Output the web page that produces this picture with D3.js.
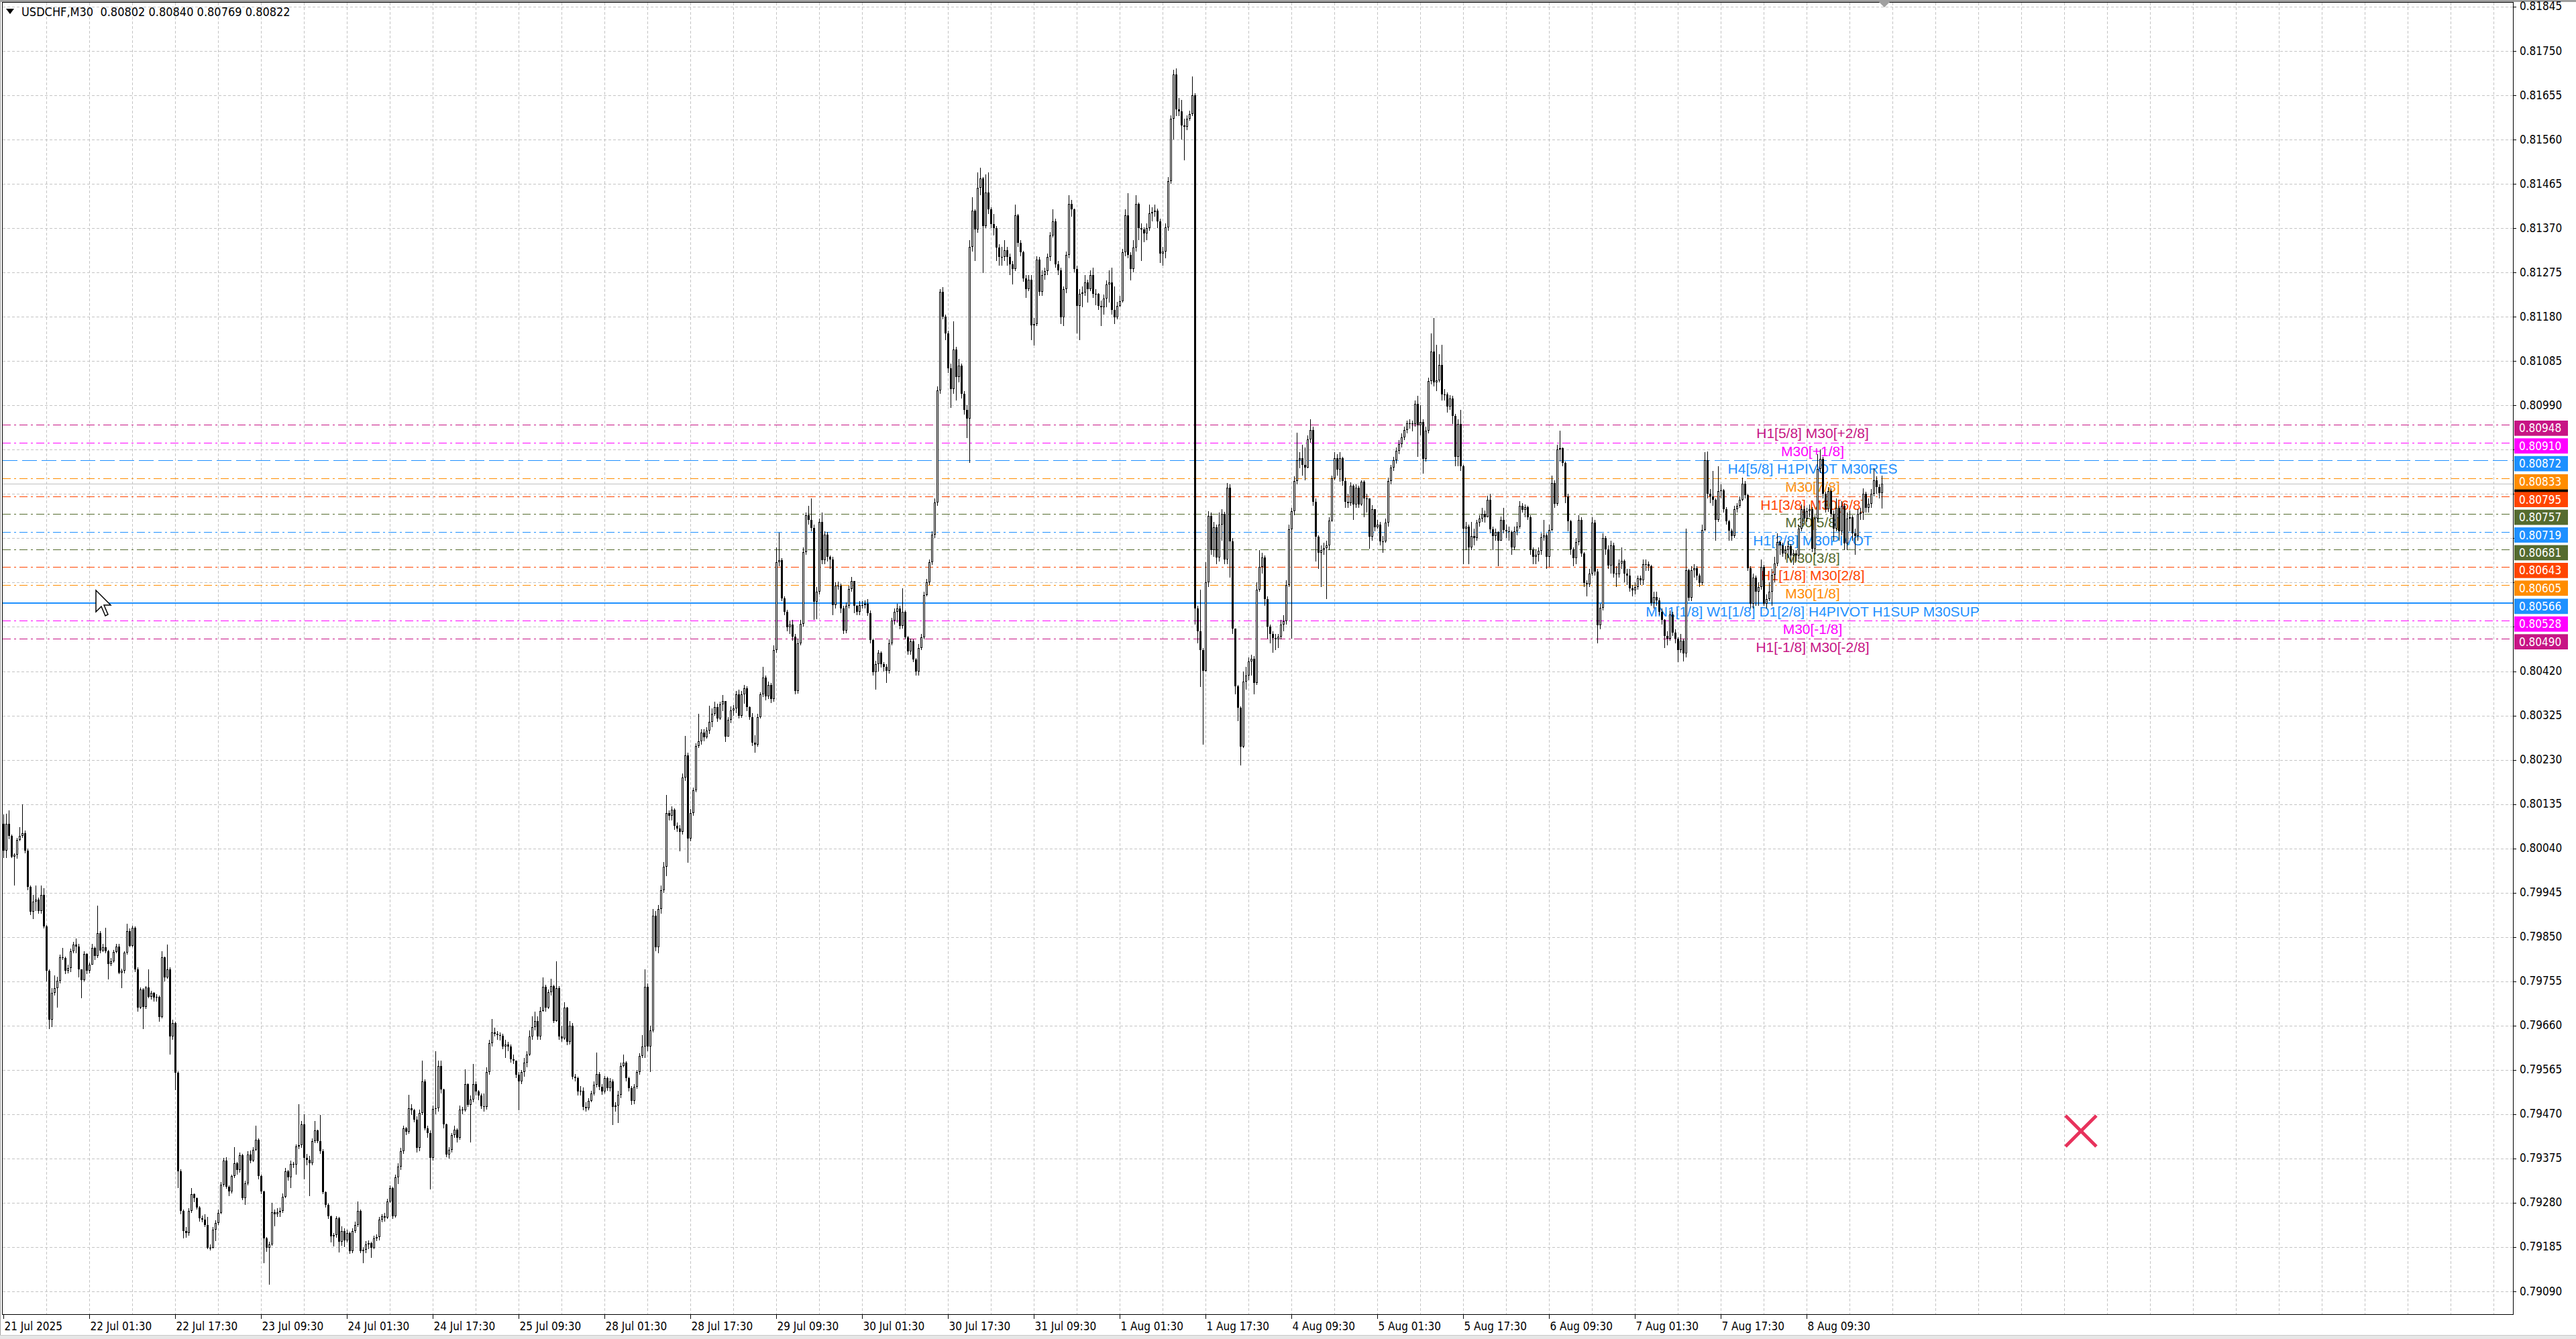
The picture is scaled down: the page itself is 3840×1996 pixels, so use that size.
<!DOCTYPE html>
<html><head><meta charset="utf-8">
<script src="https://cdn.jsdelivr.net/npm/d3@7"></script>
<style>html,body{margin:0;padding:0;background:#fff;overflow:hidden}</style>
</head><body><svg id="c" width="3840" height="1996" xmlns="http://www.w3.org/2000/svg"></svg>
<script>
// ---------------- DATA ----------------
const SYMBOL = "USDCHF,M30";
const BASE = 0.79;          // bar values below are in points (0.00001) above BASE
const firstOpen = 1092;
const closes = [
1035,1093,1067,1022,1026,1058,1067,1073,1035,958,
904,926,930,906,940,872,777,673,730,740,
756,806,805,777,783,820,834,830,781,757,
813,777,791,827,809,858,821,828,820,792,
798,818,830,774,777,816,863,831,870,781,
698,738,700,741,722,730,720,722,678,806,
763,781,637,666,559,347,262,220,215,262,
298,290,270,247,244,233,183,183,222,237,
258,319,371,315,305,337,365,350,382,290,
322,383,371,394,415,337,304,204,183,191,
260,255,260,262,293,348,334,363,362,401,
403,448,376,372,365,412,435,412,390,303,
276,251,208,211,247,197,220,200,215,176,
219,233,262,176,179,190,194,184,204,206,
244,251,248,283,312,251,334,358,391,440,
433,483,479,458,398,473,541,440,430,376,
482,483,573,523,448,383,394,425,437,420,
480,478,534,490,501,535,518,510,487,485,
560,622,646,643,640,638,615,620,615,588,
585,554,540,560,581,598,636,657,670,637,
691,743,698,732,745,670,740,636,633,698,
625,660,551,547,519,520,485,483,499,515,
533,556,529,519,547,526,540,485,488,512,
574,581,547,526,499,529,560,595,615,743,
615,650,896,828,910,951,1000,1116,1110,1123,
1089,1082,1075,1192,1240,1061,1116,1164,1260,1270,
1288,1278,1292,1311,1329,1343,1319,1349,1356,1280,
1315,1336,1340,1370,1325,1370,1384,1343,1322,1267,
1262,1322,1370,1407,1366,1390,1360,1466,1654,1658,
1576,1548,1514,1520,1494,1377,1480,1521,1676,1754,
1744,1727,1569,1590,1740,1658,1713,1665,1660,1562,
1603,1603,1555,1507,1560,1596,1613,1560,1548,1562,
1562,1565,1545,1487,1418,1435,1459,1435,1430,1421,
1480,1528,1548,1555,1517,1548,1493,1462,1484,1445,
1420,1470,1493,1583,1610,1654,1713,1782,2022,2234,
2181,2145,2070,2025,2110,2051,2075,2015,1980,1961,
2330,2407,2367,2457,2477,2375,2447,2410,2379,2370,
2328,2308,2308,2323,2308,2293,2283,2397,2338,2318,
2263,2239,2259,2162,2165,2303,2234,2270,2278,2308,
2355,2385,2293,2280,2179,2239,2313,2422,2410,2283,
2204,2229,2232,2254,2239,2270,2229,2229,2204,2200,
2219,2249,2253,2194,2179,2204,2214,2318,2397,2313,
2283,2328,2422,2370,2367,2358,2370,2402,2405,2408,
2385,2316,2320,2372,2471,2605,2699,2625,2620,2590,
2588,2605,2615,2655,1555,1506,1466,1421,1610,1753,
1679,1729,1664,1734,1758,1659,1813,1699,1511,1387,
1342,1258,1397,1411,1441,1446,1395,1595,1644,1664,
1575,1515,1500,1491,1488,1494,1520,1527,1605,1724,
1763,1828,1872,1877,1862,1857,1917,1937,1783,1709,
1674,1680,1684,1690,1743,1833,1877,1852,1877,1828,
1783,1780,1818,1778,1813,1778,1827,1791,1791,1709,
1768,1729,1734,1699,1699,1738,1828,1857,1872,1892,
1907,1922,1937,1951,1952,1950,1993,1947,1955,1875,
1936,2042,2106,2040,2044,2077,2013,2013,1987,2005,
1968,1880,1950,1859,1726,1730,1686,1710,1705,1739,
1747,1758,1750,1787,1724,1710,1718,1700,1745,1723,
1720,1718,1686,1720,1730,1774,1766,1772,1750,1681,
1665,1670,1678,1707,1712,1665,1723,1824,1779,1896,
1899,1867,1795,1742,1681,1662,1697,1745,1673,1609,
1606,1630,1739,1633,1518,1556,1705,1681,1646,1690,
1630,1628,1651,1656,1630,1625,1598,1593,1600,1619,
1615,1649,1650,1645,1566,1579,1572,1548,1530,1495,
1490,1542,1503,1490,1465,1486,1458,1636,1577,1636,
1641,1625,1609,1723,1872,1800,1795,1787,1745,1806,
1808,1768,1742,1721,1710,1768,1774,1787,1822,1798,
1641,1564,1620,1590,1600,1643,1565,1575,1590,1626,
1651,1697,1690,1673,1680,1688,1668,1672,1668,1726,
1768,1747,1763,1768,1683,1747,1854,1875,1800,1768,
1806,1758,1725,1770,1720,1775,1694,1747,1750,1715,
1710,1758,1760,1800,1770,1779,1800,1830,1815,1802,
1822];
const highs = [
1113,1114,1122,1070,1030,1062,1085,1135,1078,1040,
960,940,960,935,960,955,875,780,740,768,
765,812,827,808,790,825,840,846,835,765,
820,815,795,835,830,917,862,835,870,822,
805,822,835,835,782,820,878,868,874,872,
785,742,740,745,780,735,732,728,725,820,
808,834,785,672,668,562,352,265,228,268,
312,300,292,272,252,255,250,190,228,242,
265,325,376,378,318,340,399,368,388,385,
328,390,392,400,446,418,340,306,206,196,
280,265,268,270,300,355,350,370,368,405,
492,455,470,385,380,418,455,436,469,395,
305,278,253,215,251,250,230,225,222,218,
225,240,283,265,185,198,200,196,210,212,
250,256,258,288,318,315,340,365,398,445,
442,512,492,482,465,480,585,545,445,435,
488,605,585,585,525,450,400,430,445,440,
488,485,566,536,510,578,540,522,515,515,
570,630,674,655,648,645,642,630,625,620,
598,580,560,565,590,605,650,680,690,680,
700,763,748,738,760,748,798,745,660,710,
700,670,665,556,550,530,528,495,505,520,
540,602,560,535,552,550,548,545,495,520,
580,598,584,550,530,535,565,600,640,780,
750,660,910,905,918,960,1010,1155,1122,1130,
1126,1095,1090,1200,1281,1245,1125,1170,1265,1329,
1295,1295,1300,1346,1340,1355,1350,1355,1369,1300,
1322,1345,1348,1378,1380,1378,1390,1388,1345,1330,
1282,1328,1375,1429,1410,1398,1395,1475,1685,1717,
1662,1580,1552,1528,1530,1500,1490,1530,1685,1760,
1775,1791,1735,1600,1748,1760,1720,1718,1668,1665,
1610,1612,1608,1560,1568,1603,1622,1600,1562,1570,
1570,1572,1575,1550,1490,1442,1465,1462,1440,1435,
1488,1535,1555,1565,1560,1597,1550,1495,1490,1488,
1448,1478,1500,1590,1618,1660,1720,1790,2030,2240,
2243,2185,2150,2080,2170,2115,2090,2080,2020,1990,
2345,2437,2410,2490,2500,2480,2486,2490,2415,2400,
2375,2335,2330,2345,2330,2315,2300,2420,2400,2345,
2322,2270,2270,2270,2178,2310,2308,2280,2285,2315,
2362,2410,2390,2300,2285,2245,2320,2440,2430,2412,
2290,2240,2245,2270,2260,2280,2285,2240,2230,2215,
2228,2258,2280,2285,2245,2212,2225,2325,2410,2445,
2318,2345,2440,2425,2380,2372,2380,2420,2415,2420,
2412,2390,2330,2380,2480,2612,2710,2712,2650,2645,
2605,2612,2622,2695,2660,1560,1595,1470,1654,1763,
1760,1740,1735,1760,1768,1762,1823,1820,1705,1505,
1390,1345,1420,1430,1450,1455,1452,1610,1680,1674,
1668,1580,1520,1505,1500,1500,1530,1540,1615,1735,
1770,1838,1932,1890,1905,1900,1925,1960,1945,1790,
1712,1690,1695,1700,1750,1840,1890,1885,1890,1880,
1835,1800,1825,1820,1820,1818,1830,1830,1800,1712,
1776,1768,1745,1740,1710,1748,1835,1862,1880,1900,
1915,1930,1945,1958,1960,1958,2000,2010,1990,1960,
1945,2050,2145,2177,2120,2100,2120,2025,2018,2012,
2010,1972,1960,1980,1862,1740,1735,1740,1725,1745,
1755,1770,1765,1796,1800,1730,1725,1720,1752,1770,
1735,1730,1722,1730,1740,1785,1780,1778,1775,1755,
1685,1680,1685,1715,1745,1715,1735,1840,1830,1905,
1936,1900,1870,1800,1745,1685,1705,1755,1750,1675,
1615,1640,1750,1745,1640,1565,1715,1710,1690,1700,
1695,1645,1660,1685,1660,1640,1640,1605,1610,1625,
1625,1660,1660,1655,1648,1590,1590,1578,1555,1532,
1505,1550,1548,1510,1492,1500,1490,1725,1640,1645,
1650,1645,1630,1735,1890,1891,1810,1850,1790,1860,
1820,1810,1772,1745,1725,1775,1780,1795,1835,1828,
1800,1645,1630,1625,1610,1660,1648,1585,1610,1640,
1665,1716,1700,1695,1688,1700,1692,1680,1680,1735,
1778,1775,1770,1778,1772,1755,1885,1895,1880,1805,
1815,1812,1765,1790,1775,1785,1780,1760,1765,1755,
1725,1768,1770,1812,1805,1790,1810,1855,1838,1820,
1840];
const lows = [
1019,1019,1060,1019,960,1018,1055,1063,1030,950,
897,888,905,900,900,868,754,652,657,725,
698,750,800,770,772,775,815,815,763,718,
755,770,772,790,800,805,815,818,815,759,
788,795,815,770,740,772,812,828,828,775,
690,695,652,695,718,716,712,712,668,676,
755,760,598,630,521,312,255,204,205,210,
258,282,265,240,238,228,180,178,182,198,
232,255,315,310,295,300,333,340,345,285,
275,318,365,368,390,330,298,151,175,104,
188,230,250,250,258,290,328,312,355,340,
395,398,330,360,294,360,408,408,385,298,
270,245,195,187,205,173,188,185,195,170,
172,215,228,172,151,172,180,162,180,198,
200,238,240,245,280,245,248,320,350,385,
425,428,468,452,388,390,468,435,420,308,
370,470,475,515,440,378,375,388,420,410,
415,470,475,485,410,495,510,500,482,475,
480,555,615,636,630,628,610,590,605,580,
578,548,478,535,550,570,595,630,650,630,
630,690,690,695,725,665,668,630,625,630,
618,620,545,540,510,510,478,475,478,495,
510,528,522,512,515,520,518,447,475,451,
505,570,540,518,490,492,525,555,590,590,
605,560,645,820,815,900,945,980,1100,1100,
1080,1075,1034,1070,1185,1009,1055,1110,1160,1255,
1262,1270,1275,1285,1300,1325,1312,1315,1335,1268,
1280,1308,1325,1330,1318,1320,1350,1335,1315,1260,
1245,1258,1318,1365,1358,1360,1352,1355,1460,1645,
1570,1540,1505,1500,1485,1370,1372,1475,1515,1670,
1735,1720,1530,1532,1585,1650,1650,1655,1640,1540,
1555,1595,1545,1500,1502,1555,1590,1545,1540,1540,
1555,1555,1538,1480,1410,1380,1420,1428,1420,1395,
1415,1475,1520,1525,1510,1512,1488,1455,1455,1440,
1410,1410,1465,1488,1580,1605,1648,1705,1775,2015,
2175,2130,2060,1985,2015,2000,2040,2005,1970,1920,
1867,2320,2300,2360,2440,2274,2370,2400,2370,2355,
2300,2290,2290,2300,2290,2270,2250,2278,2330,2310,
2255,2220,2235,2130,2118,2160,2225,2225,2260,2270,
2300,2350,2285,2270,2165,2160,2230,2305,2395,2275,
2145,2130,2200,2225,2210,2235,2220,2205,2195,2160,
2185,2200,2210,2185,2165,2175,2200,2210,2310,2305,
2258,2275,2320,2345,2300,2340,2345,2365,2385,2395,
2370,2295,2290,2305,2365,2465,2560,2610,2610,2560,
2515,2580,2600,2610,1520,1480,1386,1263,1420,1600,
1670,1665,1650,1655,1700,1650,1650,1620,1500,1370,
1313,1218,1255,1380,1400,1410,1370,1390,1590,1630,
1560,1490,1480,1460,1465,1470,1488,1505,1520,1600,
1490,1755,1820,1855,1840,1830,1855,1910,1775,1655,
1640,1600,1670,1575,1680,1740,1830,1840,1827,1818,
1770,1770,1775,1745,1770,1770,1775,1750,1760,1683,
1700,1720,1725,1690,1674,1695,1730,1820,1850,1865,
1885,1900,1915,1930,1940,1935,1945,1880,1925,1843,
1870,1930,2035,2030,2020,2040,2000,2000,1975,1980,
1950,1860,1859,1850,1650,1680,1650,1680,1690,1700,
1730,1740,1738,1750,1715,1680,1700,1645,1700,1715,
1705,1700,1670,1680,1712,1725,1760,1750,1745,1670,
1650,1649,1655,1670,1700,1640,1643,1720,1770,1775,
1870,1860,1780,1720,1670,1645,1650,1690,1665,1600,
1580,1600,1625,1625,1480,1510,1550,1670,1640,1630,
1620,1600,1620,1640,1610,1605,1590,1580,1585,1595,
1605,1605,1635,1635,1560,1555,1560,1540,1520,1470,
1475,1485,1495,1480,1440,1460,1441,1450,1570,1570,
1620,1615,1600,1605,1720,1790,1780,1775,1700,1740,
1790,1760,1735,1700,1700,1705,1760,1770,1785,1790,
1635,1555,1555,1560,1560,1595,1560,1555,1570,1560,
1610,1645,1670,1665,1660,1662,1655,1648,1655,1660,
1720,1735,1740,1750,1675,1670,1740,1845,1790,1760,
1762,1750,1700,1720,1700,1712,1680,1680,1720,1700,
1670,1700,1745,1745,1760,1760,1770,1795,1800,1790,
1769];
const timeLabels = ["21 Jul 2025","22 Jul 01:30","22 Jul 17:30","23 Jul 09:30","24 Jul 01:30","24 Jul 17:30",
  "25 Jul 09:30","28 Jul 01:30","28 Jul 17:30","29 Jul 09:30","30 Jul 01:30","30 Jul 17:30","31 Jul 09:30",
  "1 Aug 01:30","1 Aug 17:30","4 Aug 09:30","5 Aug 01:30","5 Aug 17:30","6 Aug 09:30","7 Aug 01:30",
  "7 Aug 17:30","8 Aug 09:30"];
const barsPerLabel = 32;
const barsPerGrid = 16;
const priceTicks = ["0.81845","0.81750","0.81655","0.81560","0.81465","0.81370","0.81275","0.81180","0.81085",
  "0.80990","0.80895","0.80800","0.80705","0.80610","0.80515","0.80420","0.80325","0.80230","0.80135","0.80040",
  "0.79945","0.79850","0.79755","0.79660","0.79565","0.79470","0.79375","0.79280","0.79185","0.79090"];
const levels = [0.80948,0.80910,0.80872,0.80833,0.80795,0.80757,0.80719,0.80681,0.80643,0.80605,0.80566,0.80528,0.80490];
const levelNames = ["H1[5/8] M30[+2/8]","M30[+1/8]","H4[5/8] H1PIVOT M30RES","M30[7/8]","H1[3/8] M30[6/8]",
  "M30[5/8]","H1[2/8] M30PIVOT","M30[3/8]","H1[1/8] M30[2/8]","M30[1/8]",
  "MN1[1/8] W1[1/8] D1[2/8] H4PIVOT H1SUP M30SUP","M30[-1/8]","H1[-1/8] M30[-2/8]"];

// ---------------- STYLE ----------------
const levelColors = ["#C71585","#FF00FF","#1E90FF","#FF8C00","#FF4500","#556B2F","#1E90FF","#556B2F","#FF4500","#FF8C00","#1E90FF","#FF00FF","#C71585"];
const levelDash = ["12,5,3,5","12,5,3,5","22,7","12,5,3,5","12,5,3,5","12,5,3,5","12,5,3,5","12,5,3,5","12,5,3,5","12,5,3,5",null,"12,5,3,5","12,5,3,5"];
const AX_FONT = "'DejaVu Sans Condensed','DejaVu Sans',sans-serif";
const TXT_FONT = "'Liberation Sans',Arial,sans-serif";

// ---------------- DRAW ----------------
const W = 3840, H = 1996, plotR = 3746, plotB = 1959;
const svg = d3.select("#c");
const n = Math.min(closes.length, highs.length, lows.length);
const x = d3.scaleLinear().domain([0, 700]).range([5.5, 2805.5]);
const y = d3.scaleLinear().domain([0.79090, 0.81750]).range([1925, 76]);
const P = v => BASE + v / 1e5;
const fmt = d3.format(".5f");
const crisp = v => Math.round(v) + 0.5;
const BOX_UP = 6.5, BOX_H = 22.7;

svg.append("rect").attr("width", W).attr("height", H).attr("fill", "#fff");

// grid
const grid = svg.append("g").attr("stroke", "#c4c4c4").attr("stroke-width", 1)
  .attr("stroke-dasharray", "4,3").attr("shape-rendering", "crispEdges");
priceTicks.forEach(t => {
  const yy = crisp(y(+t));
  grid.append("line").attr("x1", 4).attr("x2", plotR).attr("y1", yy).attr("y2", yy);
});
d3.range(barsPerGrid, 1000, barsPerGrid).filter(i => x(i) < plotR - 2).forEach(i => {
  grid.append("line").attr("x1", x(i)).attr("x2", x(i)).attr("y1", 4).attr("y2", plotB);
});

// level lines
const lv = svg.append("g");
levels.forEach((l, i) => {
  const solid = levelDash[i] === null;
  const yy = solid ? Math.round(y(l)) : crisp(y(l));
  lv.append("line").attr("x1", 4).attr("x2", plotR).attr("y1", yy).attr("y2", yy)
    .attr("stroke", levelColors[i]).attr("stroke-width", solid ? 2 : 1)
    .attr("stroke-dasharray", levelDash[i]).attr("shape-rendering", "crispEdges");
});
levels.forEach((l, i) => {
  lv.append("text").attr("x", 2702).attr("y", y(l) + 20).attr("text-anchor", "middle")
    .attr("font-family", TXT_FONT).attr("font-size", 21).attr("fill", levelColors[i]).text(levelNames[i]);
});

// bid line
const bid = P(closes[n - 1]);
svg.append("line").attr("x1", 4).attr("x2", plotR).attr("y1", crisp(y(bid))).attr("y2", crisp(y(bid)))
  .attr("stroke", "#c0c0c0").attr("stroke-width", 1).attr("shape-rendering", "crispEdges");

// candles
const cg = svg.append("g").attr("shape-rendering", "crispEdges");
for (let i = 0; i < n; i++) {
  const o = i === 0 ? firstOpen : closes[i - 1];
  const c = closes[i];
  const hi = Math.max(highs[i], o, c), lo = Math.min(lows[i], o, c);
  const cx = x(i);
  cg.append("line").attr("x1", cx).attr("x2", cx).attr("y1", Math.round(y(P(hi)))).attr("y2", Math.round(y(P(lo))))
    .attr("stroke", "#000").attr("stroke-width", 1);
  const top = Math.round(y(P(Math.max(o, c)))), bot = Math.round(y(P(Math.min(o, c))));
  if (bot - top < 2) {
    cg.append("rect").attr("x", cx - 1.5).attr("y", top).attr("width", 3).attr("height", Math.max(1, bot - top)).attr("fill", "#000");
  } else {
    cg.append("rect").attr("x", cx - 1).attr("y", top + 0.5).attr("width", 2).attr("height", bot - top - 1)
      .attr("fill", c >= o ? "#fff" : "#000").attr("stroke", "#000").attr("stroke-width", 1);
  }
}

// frame
svg.append("rect").attr("x", 0).attr("y", 0).attr("width", W).attr("height", 3).attr("fill", "#a0a0a0");
svg.append("line").attr("x1", 0.5).attr("x2", 0.5).attr("y1", 0).attr("y2", H).attr("stroke", "#a0a0a0");
svg.append("line").attr("x1", 3.5).attr("x2", 3.5).attr("y1", 3).attr("y2", plotB + 1).attr("stroke", "#000");
svg.append("line").attr("x1", 3).attr("x2", plotR + 1).attr("y1", 3.5).attr("y2", 3.5).attr("stroke", "#000");
svg.append("rect").attr("x", 0).attr("y", 1990).attr("width", W).attr("height", 6).attr("fill", "#e6e6e6");
svg.append("line").attr("x1", 0).attr("x2", W).attr("y1", 1990.5).attr("y2", 1990.5).attr("stroke", "#c8c8c8");

// axes lines
svg.append("line").attr("x1", plotR + 0.5).attr("x2", plotR + 0.5).attr("y1", 3).attr("y2", plotB + 1).attr("stroke", "#000");
svg.append("line").attr("x1", 3).attr("x2", plotR + 1).attr("y1", plotB + 0.5).attr("y2", plotB + 0.5).attr("stroke", "#000");

// price boxes cover the axis: price label hidden where a box sits over it
const boxPrices = [bid].concat(levels);
function coveredShare(yc) {
  let hidden = 0, total = 0;
  for (let r = Math.round(yc - 6); r <= Math.round(yc + 6); r++) {
    total++;
    if (boxPrices.some(p => r >= y(p) - BOX_UP && r <= y(p) - BOX_UP + BOX_H)) hidden++;
  }
  return hidden / total;
}

// right axis ticks & labels
const ya = svg.append("g");
priceTicks.forEach(t => {
  const yy = crisp(y(+t));
  ya.append("line").attr("x1", plotR + 1).attr("x2", plotR + 5).attr("y1", yy).attr("y2", yy).attr("stroke", "#000");
  if (coveredShare(y(+t) - 1) < 0.5) {
    ya.append("text").attr("x", 3756).attr("y", y(+t) + 5.5).attr("font-family", AX_FONT).attr("font-size", 17)
      .attr("fill", "#000").text(t);
  }
});

// bottom axis ticks & labels
const xa = svg.append("g");
timeLabels.forEach((s, k) => {
  const xx = x(k * barsPerLabel);
  xa.append("line").attr("x1", xx).attr("x2", xx).attr("y1", plotB + 1).attr("y2", plotB + 7).attr("stroke", "#000");
  xa.append("text").attr("x", xx + 1).attr("y", 1983).attr("font-family", AX_FONT).attr("font-size", 17)
    .attr("fill", "#000").text(s);
});

// price boxes: the bid box sits underneath the level boxes (only a sliver shows)
function box(price, fill, withText) {
  const yy = y(price);
  svg.append("rect").attr("x", 3748).attr("y", yy - BOX_UP).attr("width", 80).attr("height", BOX_H).attr("fill", fill);
  if (withText) {
    svg.append("text").attr("x", 3755).attr("y", yy + 11).attr("font-family", AX_FONT).attr("font-size", 17)
      .attr("fill", "#fff").text(fmt(price));
  }
}
box(bid, "#000", false);
levels.forEach((l, i) => box(l, levelColors[i], true));

// header
const last = n - 1;
const oL = P(closes[last - 1]), cL = P(closes[last]);
const hL = P(Math.max(highs[last], closes[last - 1], closes[last])), lL = P(Math.min(lows[last], closes[last - 1], closes[last]));
svg.append("path").attr("d", "M9,13 L21,13 L15,21 Z").attr("fill", "#000");
svg.append("text").attr("x", 32).attr("y", 24).attr("font-family", AX_FONT).attr("font-size", 18)
  .attr("fill", "#000").style("white-space", "pre")
  .text(`${SYMBOL}  ${fmt(oL)} ${fmt(hL)} ${fmt(lL)} ${fmt(cL)}`);

// chart shift marker
const sx = x(700) + 3.5;
svg.append("path").attr("d", `M${sx - 8},3 L${sx + 8},3 L${sx},11 Z`).attr("fill", "#a0a0a0");

// red X marker
const xm = svg.append("g").attr("stroke", "#e8325c").attr("stroke-width", 5);
xm.append("line").attr("x1", 3079).attr("y1", 1663).attr("x2", 3125).attr("y2", 1709);
xm.append("line").attr("x1", 3125).attr("y1", 1663).attr("x2", 3079).attr("y2", 1709);

// mouse pointer
svg.append("path").attr("transform", "translate(143,880)")
  .attr("d", "M0,0 L0,32 L8,24 L14,38 L18,36 L12,22 L22,22 Z")
  .attr("fill", "#fff").attr("stroke", "#000").attr("stroke-width", 1.5);
</script>
</body></html>
